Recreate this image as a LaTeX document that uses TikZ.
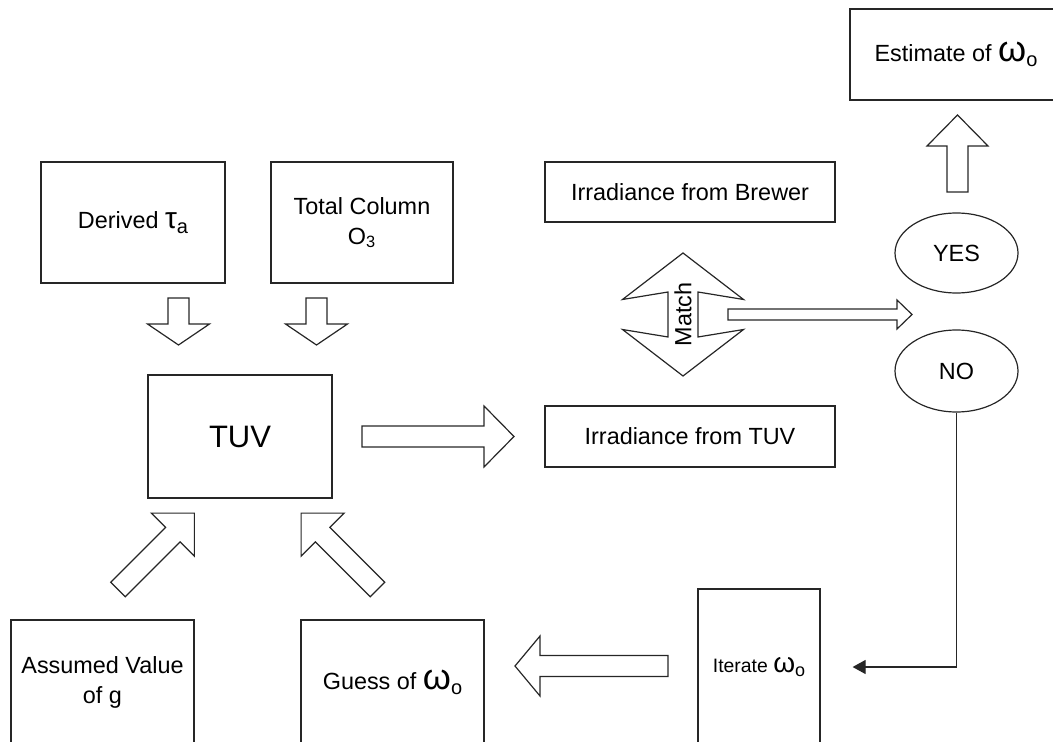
\documentclass[tikz,border=0pt]{standalone}
\usepackage{fontspec}
\setmainfont{Liberation Sans}
\usetikzlibrary{shapes.geometric,arrows.meta}

\newcommand{\lowsub}[2][10]{\raisebox{-0.45ex}{\fontsize{#1}{#1}\selectfont #2}}
\newcommand{\omgo}[2][18]{{\fontsize{#1}{#1}\selectfont ω}\lowsub[#2]{o}}
\newcommand{\taua}{{\fontsize{15}{15}\selectfont τ}\lowsub{a}}

% hollow block arrow pointing along +x: length, shaft half width, head half width, head length
\tikzset{
  pics/blkarrow/.style n args={4}{code={
    \draw[outline] (0,-#2) -- ({#1-#4},-#2) -- ({#1-#4},-#3) -- (#1,0)
      -- ({#1-#4},#3) -- ({#1-#4},#2) -- (0,#2) -- cycle;
  }}
}

\begin{document}
\begin{tikzpicture}[
  x=0.5pt, y=-0.5pt,
  outline/.style={draw=black!85, line width=0.6pt, line join=miter},
  box/.style={outline, inner sep=2pt, align=center, font=\fontsize{11.7}{15}\selectfont},
  oval/.style={box, ellipse},
  conn/.style={draw=black!85, line width=0.6pt, -{Triangle[length=6.5pt,width=7pt]}, shorten >=16pt}
]
  \useasboundingbox (0,0) rectangle (1053,742);

  % Inputs
  \node[box, minimum width=92pt, minimum height=60.5pt] (derived) at (133,222.5) {Derived \taua};
  \node[box, minimum width=91pt, minimum height=60.5pt] (total) at (362,222.5) {Total Column\\O\textsubscript{3}};
  \node[box, minimum width=91.5pt, minimum height=62.5pt] (assumed) at (102.5,682.5) {Assumed Value\\of g};
  \node[box, minimum width=91.5pt, minimum height=62.5pt] (guess) at (392.5,682.5) {Guess of \omgo{10}};

  % Model
  \node[box, minimum width=92pt, minimum height=61.5pt, font=\fontsize{15.5}{18}\selectfont] (tuv) at (240,436.5) {TUV};

  % Irradiances
  \node[box, minimum width=145pt, minimum height=30pt] (brewer) at (690,192) {Irradiance from Brewer};
  \node[box, minimum width=145pt, minimum height=30.5pt] (tuvirr) at (690,436.5) {Irradiance from TUV};
  \node[font=\fontsize{11.7}{14}\selectfont, rotate=90] (match) at (683,314.5) {Match};
  \draw[outline, shift={(match.center)}] (0,-61.5) -- (60.5,-15) -- (15,-22.5) -- (15,22.5)
    -- (60.5,15) -- (0,61.5) -- (-60.5,15) -- (-15,22.5) -- (-15,-22.5) -- (-60.5,-15) -- cycle;

  % Decision
  \node[oval, minimum width=61.5pt, minimum height=40pt] (yes) at (956.5,253) {YES};
  \node[oval, minimum width=61.5pt, minimum height=41pt] (no) at (956.5,371) {NO};
  \node[box, minimum width=106pt, minimum height=45.5pt] (est) at (956,54.5) {Estimate of \omgo{10}};
  \node[box, minimum width=61pt, minimum height=78pt, font=\fontsize{9.7}{12}\selectfont] (iter) at (759,667) {Iterate \omgo[14]{9}};

  % Block arrows
  \pic[rotate=-90] at (178.5,298) {blkarrow={47}{10.5}{31}{21}};
  \pic[rotate=-90] at (316.5,298) {blkarrow={47}{10.5}{31}{21}};
  \pic[rotate=45] at (118,589.5) {blkarrow={108}{10.3}{30.4}{30.4}};
  \pic[rotate=135] at (377.5,589.5) {blkarrow={108}{10.3}{30.4}{30.4}};
  \pic at (362,436.5) {blkarrow={152}{10.5}{30.5}{30}};
  \pic at (728,314.5) {blkarrow={184}{5.5}{14.5}{15}};
  \pic[rotate=90] at (957.5,192) {blkarrow={77}{10.5}{30.5}{31}};
  \pic[rotate=180] at (668,666) {blkarrow={153}{10.5}{30}{25}};

  % Loop back
  \draw[conn] (no.south) |- (iter.east);
\end{tikzpicture}
\end{document}
